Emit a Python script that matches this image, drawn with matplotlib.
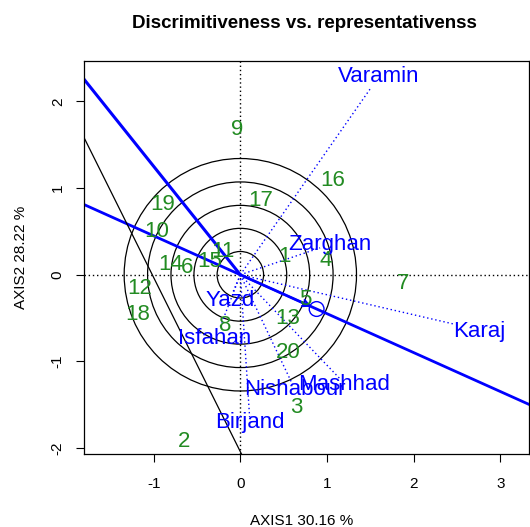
import matplotlib
matplotlib.use("Agg")
import matplotlib.pyplot as plt
from matplotlib.patches import Circle

plt.rcParams['font.family'] = ['Liberation Sans', 'DejaVu Sans']
plt.rcParams['axes.unicode_minus'] = False

# genotype scores (label positions)
genotypes = [str(i) for i in range(1, 21)]
geno_x = [0.51, -0.65, 0.64, 0.98, 0.75, -0.62, 1.88, -0.17, -0.04, -0.97,
          -0.20, -1.16, 0.55, -0.80, -0.35, 1.07, 0.24, -1.18, -0.90, 0.55]
geno_y = [0.21, -1.92, -1.53, 0.16, -0.29, 0.08, -0.10, -0.59, 1.68, 0.50,
          0.27, -0.16, -0.51, 0.12, 0.15, 1.09, 0.86, -0.46, 0.81, -0.90]

# environment vectors and where their names sit
environments = ["Varamin", "Zarghan", "Karaj", "Mashhad", "Nishabour", "Birjand", "Isfahan", "Yazd"]
env_x = [1.51, 0.92, 2.47, 1.15, 0.60, 0.107, -0.24, -0.09]
env_y = [2.16, 0.31, -0.57, -1.20, -1.26, -1.64, -0.62, -0.21]
env_lab_x = [1.595, 1.03, 2.76, 1.20, 0.63, 0.107, -0.30, -0.115]
env_lab_y = [2.28, 0.35, -0.65, -1.26, -1.32, -1.70, -0.73, -0.296]

# average environment coordinate and the concentric circle radii
aec_x, aec_y = 0.88, -0.395
circle_radii = [0.268, 0.535, 0.80, 1.07, 1.34]

xlim = (-1.80, 3.33)
ylim = (-2.07, 2.47)

fig = plt.figure(figsize=(5.3, 5.27), dpi=100)
ax = fig.add_axes([84.3 / 530, 1 - 454.3 / 527, (529 - 84.3) / 530, (454.3 - 60.5) / 527])
ax.set_xlim(xlim)
ax.set_ylim(ylim)

# dotted axes through origin
ax.axhline(0, color='black', lw=1, ls=(0, (1, 2)), zorder=1)
ax.axvline(0, color='black', lw=1, ls=(0, (1, 2)), zorder=1)

for r in circle_radii:
    ax.add_patch(Circle((0, 0), r, fill=False, ec='black', lw=0.9))

# AEC abscissa (through origin) and ordinate (half line)
ax.axline((0, 0), (aec_x, aec_y), color='blue', lw=2)
ax.plot([0, -1.80 * 4], [0, 2.25 * 4], color='blue', lw=2.2)
ax.axline((-1.80, 1.575), (0, -2.04), color='black', lw=0.9)

ax.annotate('', xy=(aec_x - 0.03, aec_y + 0.013), xytext=(0, 0),
            arrowprops=dict(arrowstyle='->', color='blue', lw=1.5, mutation_scale=12))
ax.add_patch(Circle((aec_x, aec_y), 0.085, fill=False, ec='blue', lw=1))

for i in range(len(environments)):
    ax.plot([0, env_x[i]], [0, env_y[i]], color='blue', lw=1, ls=(0, (1, 2)))
    ax.text(env_lab_x[i], env_lab_y[i], environments[i], color='blue', fontsize=16,
            ha='center', va='center')

for i in range(len(genotypes)):
    ax.text(geno_x[i], geno_y[i], genotypes[i], color='#228B22', fontsize=16,
            ha='center', va='center')

ax.set_xticks([-1, 0, 1, 2, 3])
ax.set_yticks([-2, -1, 0, 1, 2])
ax.tick_params(length=6, width=0.8, labelsize=11, pad=10)
ax.tick_params(axis='y', pad=8)
for lab in ax.get_yticklabels():
    lab.set_rotation(90)
    lab.set_va('center')
for s in ax.spines.values():
    s.set_linewidth(0.9)

fig.text(304 / 530, 1 - 28.5 / 527, 'Discrimitiveness vs. representativenss',
         fontsize=13.5, fontweight='bold', ha='center', va='baseline')
fig.text(302 / 530, 1 - 520.7 / 527, 'AXIS1 30.16 %', fontsize=11, ha='center', va='center')
fig.text(21 / 530, 1 - 257 / 527, 'AXIS2 28.22 %', fontsize=11, ha='center', va='center',
         rotation=90)

fig.savefig('out.png', dpi=100)
